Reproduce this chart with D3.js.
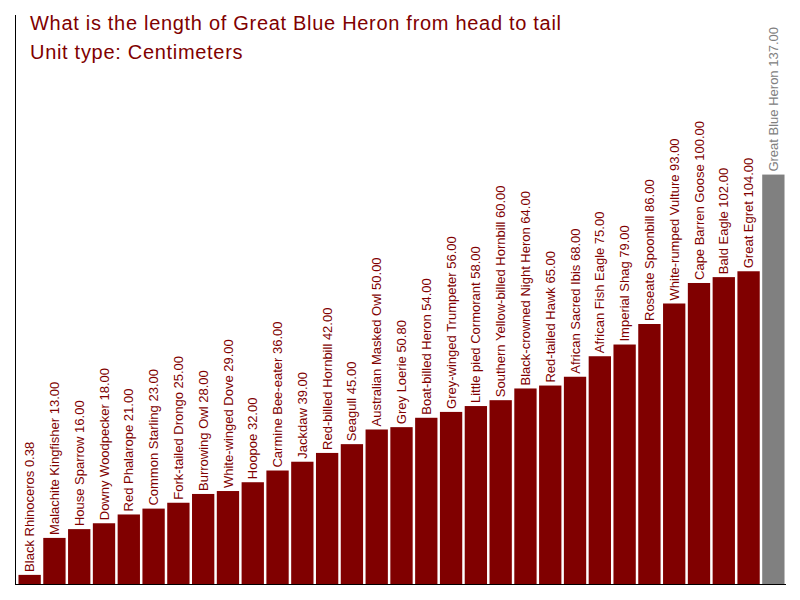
<!DOCTYPE html>
<html>
<head>
<meta charset="utf-8">
<script src="https://cdn.jsdelivr.net/npm/d3@7"></script>
<style>
  body { margin: 0; background: #fff; }
  text { font-family: "Liberation Sans", Arial, sans-serif; }
</style>
</head>
<body>
<div id="chart"></div>
<script>
// Bird lengths compared with the Great Blue Heron
const titleLines = ["What is the length of Great Blue Heron from head to tail", "Unit type: Centimeters"];

const names = [
    "Black Rhinoceros", "Malachite Kingfisher", "House Sparrow", "Downy Woodpecker",
    "Red Phalarope", "Common Starling", "Fork-tailed Drongo", "Burrowing Owl",
    "White-winged Dove", "Hoopoe", "Carmine Bee-eater", "Jackdaw",
    "Red-billed Hornbill", "Seagull", "Australian Masked Owl", "Grey Loerie",
    "Boat-billed Heron", "Grey-winged Trumpeter", "Little pied Cormorant",
    "Southern Yellow-billed Hornbill", "Black-crowned Night Heron", "Red-tailed Hawk",
    "African Sacred Ibis", "African Fish Eagle", "Imperial Shag", "Roseate Spoonbill",
    "White-rumped Vulture", "Cape Barren Goose", "Bald Eagle", "Great Egret",
    "Great Blue Heron"
];
const lengths = [
    0.38, 13, 16, 18, 21, 23, 25, 28, 29, 32, 36, 39, 42, 45, 50, 50.8,
    54, 56, 58, 60, 64, 65, 68, 75, 79, 86, 93, 100, 102, 104, 137
];
const highlight = "Great Blue Heron";

const width = 800;
const height = 600;
const red = "#800000";
const grey = "#808080";

const data = names.map((name, i) => ({ name, value: lengths[i] }));

const svg = d3.select("#chart")
    .append("svg")
    .attr("width", width)
    .attr("height", height);

// Scales
const x = d3.scaleBand()
    .domain(names)
    .range([16, 787])
    .paddingInner(0.1)
    .paddingOuter(0.1);

const y = d3.scaleLinear()
    .domain([0, d3.max(lengths) * 1.4])
    .range([576, 14]);

// Bars
svg.selectAll("rect.bar")
    .data(data)
    .join("rect")
    .attr("class", "bar")
    .attr("x", d => x(d.name))
    .attr("y", d => y(d.value))
    .attr("width", x.bandwidth())
    .attr("height", d => 585 - y(d.value))
    .attr("fill", d => d.name === highlight ? grey : red);

// Labels above bars, rotated
svg.selectAll("text.label")
    .data(data)
    .join("text")
    .attr("class", "label")
    .attr("transform", d => `translate(${x(d.name) + x.bandwidth() / 2},${y(d.value) - 3}) rotate(-90)`)
    .attr("dy", "0.35em")
    .attr("font-size", 13)
    .attr("fill", d => d.name === highlight ? grey : red)
    .text(d => d.name + " " + d.value.toFixed(2));

// Axis lines
svg.append("line")
    .attr("x1", 15.5).attr("x2", 15.5)
    .attr("y1", 15).attr("y2", 585)
    .attr("stroke", "#000");
svg.append("line")
    .attr("x1", 15).attr("x2", 786)
    .attr("y1", 584.5).attr("y2", 584.5)
    .attr("stroke", "#000");

// Title
svg.selectAll("text.title")
    .data(titleLines)
    .join("text")
    .attr("class", "title")
    .attr("x", 30)
    .attr("y", (d, i) => 30 + i * 29)
    .attr("font-size", 20)
    .attr("letter-spacing", 0.7)
    .attr("fill", red)
    .text(d => d);
</script>
</body>
</html>
